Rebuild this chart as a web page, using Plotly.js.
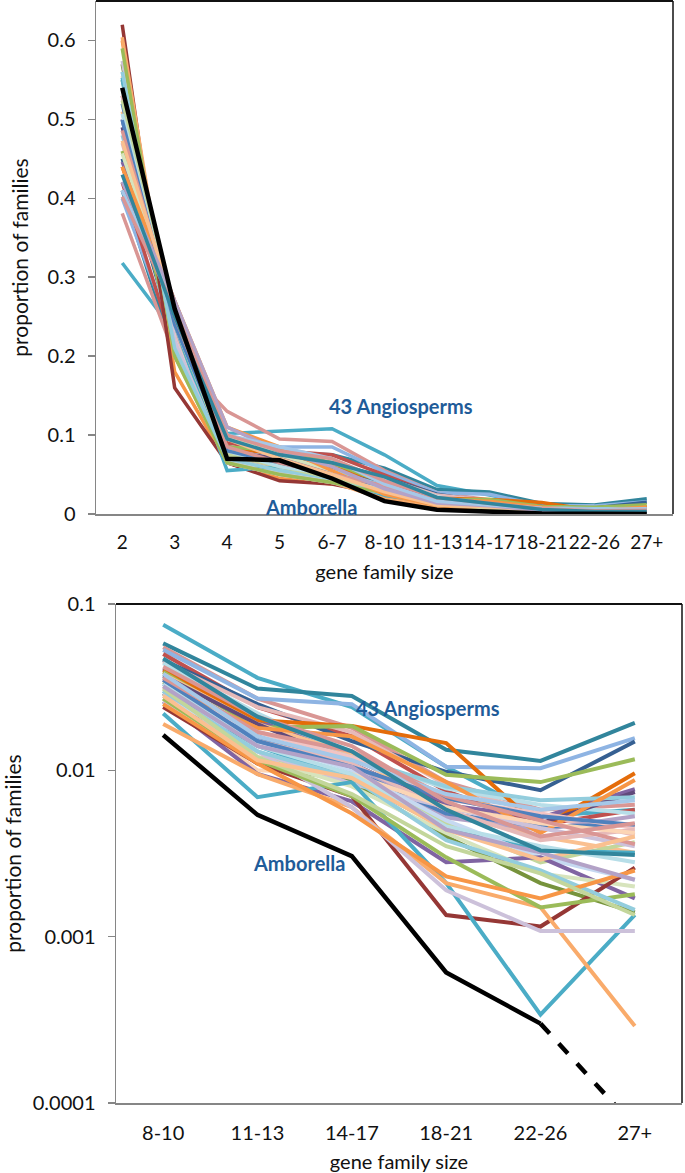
<!DOCTYPE html>
<html><head><meta charset="utf-8">
<script src="https://cdn.plot.ly/plotly-3.0.1.min.js"></script>
<style>html,body{margin:0;padding:0;background:#fff}#chart{width:685px;height:1173px}</style>
</head><body><div id="chart"></div><script>
// gene family size categories
const categories = ["2","3","4","5","6-7","8-10","11-13","14-17","18-21","22-26","27+"];
const logCategories = categories.slice(5);

// Amborella (black); last value continues below 0.0001 (dashed in log panel)
const amborella = [0.54, 0.26, 0.07, 0.068, 0.045, 0.0163, 0.0054, 0.00305, 0.00061, 0.0003, 0.000072];

// 43 angiosperms
const angio01 = [0.318, 0.23, 0.102, 0.105, 0.108, 0.075, 0.036, 0.024, 0.0105, 0.0053, 0.0058];
const angio02 = [0.41, 0.20, 0.085, 0.078, 0.075, 0.058, 0.031, 0.028, 0.0133, 0.0114, 0.0193];
const angio03 = [0.381, 0.20, 0.13, 0.095, 0.092, 0.055, 0.027, 0.018, 0.0085, 0.0058, 0.0062];
const angio04 = [0.40, 0.22, 0.095, 0.085, 0.085, 0.053, 0.027, 0.025, 0.0105, 0.0103, 0.0156];
const angio05 = [0.42, 0.21, 0.09, 0.08, 0.075, 0.050, 0.024, 0.016, 0.0075, 0.0047, 0.0058];
const angio06 = [0.45, 0.22, 0.085, 0.075, 0.065, 0.046, 0.025, 0.015, 0.0098, 0.0076, 0.0149];
const angio07 = [0.47, 0.23, 0.08, 0.07, 0.06, 0.045, 0.024, 0.017, 0.0082, 0.0054, 0.0041];
const angio08 = [0.50, 0.20, 0.08, 0.07, 0.06, 0.044, 0.022, 0.012, 0.0078, 0.0062, 0.0055];
const angio09 = [0.50, 0.21, 0.078, 0.068, 0.058, 0.041, 0.020, 0.012, 0.0062, 0.0052, 0.0077];
const angio10 = [0.44, 0.24, 0.085, 0.075, 0.06, 0.040, 0.020, 0.0185, 0.0146, 0.0045, 0.0096];
const angio11 = [0.46, 0.22, 0.085, 0.08, 0.065, 0.039, 0.018, 0.0185, 0.0094, 0.0085, 0.01165];
const angio12 = [0.51, 0.23, 0.075, 0.06, 0.05, 0.038, 0.019, 0.0125, 0.0055, 0.0040, 0.0032];
const angio13 = [0.49, 0.23, 0.08, 0.07, 0.055, 0.037, 0.019, 0.011, 0.0060, 0.0048, 0.0074];
const angio14 = [0.48, 0.24, 0.08, 0.065, 0.055, 0.036, 0.017, 0.012, 0.0080, 0.0066, 0.0069];
const angio15 = [0.53, 0.22, 0.075, 0.055, 0.05, 0.035, 0.016, 0.011, 0.0052, 0.0044, 0.0053];
const angio16 = [0.55, 0.22, 0.07, 0.055, 0.045, 0.034, 0.012, 0.0095, 0.0048, 0.0028, 0.0037];
const angio17 = [0.52, 0.23, 0.075, 0.06, 0.048, 0.033, 0.016, 0.010, 0.0055, 0.0046, 0.0047];
const angio18 = [0.60, 0.18, 0.065, 0.045, 0.038, 0.032, 0.018, 0.016, 0.0085, 0.0042, 0.00875];
const angio19 = [0.53, 0.22, 0.075, 0.06, 0.045, 0.031, 0.017, 0.012, 0.0067, 0.0055, 0.0045];
const angio20 = [0.55, 0.22, 0.07, 0.055, 0.045, 0.030, 0.014, 0.0088, 0.0045, 0.0033, 0.0032];
const angio21 = [0.57, 0.21, 0.07, 0.055, 0.04, 0.029, 0.011, 0.0085, 0.0040, 0.0021, 0.0014];
const angio22 = [0.54, 0.23, 0.07, 0.055, 0.045, 0.029, 0.013, 0.0083, 0.0060, 0.0045, 0.0035];
const angio23 = [0.53, 0.23, 0.075, 0.06, 0.045, 0.028, 0.015, 0.011, 0.0058, 0.0038, 0.0044];
const angio24 = [0.56, 0.22, 0.07, 0.05, 0.045, 0.027, 0.015, 0.010, 0.0050, 0.0030, 0.0022];
const angio25 = [0.555, 0.22, 0.07, 0.055, 0.045, 0.027, 0.010, 0.0095, 0.0060, 0.0048, 0.0042];
const angio26 = [0.446, 0.27, 0.10, 0.075, 0.05, 0.026, 0.0095, 0.0065, 0.0028, 0.0030, 0.0017];
const angio27 = [0.457, 0.26, 0.10, 0.075, 0.055, 0.025, 0.012, 0.0080, 0.0042, 0.0024, 0.0020];
const angio28 = [0.62, 0.16, 0.065, 0.042, 0.038, 0.024, 0.011, 0.0070, 0.00135, 0.00115, 0.0026];
const angio29 = [0.553, 0.24, 0.055, 0.06, 0.045, 0.022, 0.0069, 0.0085, 0.0021, 0.00034, 0.00135];
const angio30 = [0.604, 0.20, 0.065, 0.05, 0.04, 0.019, 0.0095, 0.0060, 0.0021, 0.0015, 0.00029];
const angio31 = [0.574, 0.22, 0.065, 0.05, 0.04, 0.026, 0.013, 0.0060, 0.0019, 0.00108, 0.00108];
const angio32 = [0.59, 0.20, 0.065, 0.05, 0.04, 0.027, 0.0115, 0.0070, 0.0030, 0.0015, 0.0018];
const angio33 = [0.56, 0.21, 0.07, 0.055, 0.045, 0.030, 0.013, 0.0090, 0.0038, 0.0025, 0.00145];
const angio34 = [0.44, 0.27, 0.11, 0.085, 0.055, 0.025, 0.011, 0.0055, 0.0023, 0.0017, 0.0025];
const angio35 = [0.524, 0.24, 0.075, 0.06, 0.045, 0.031, 0.012, 0.0072, 0.0035, 0.0024, 0.00135];
const angio36 = [0.507, 0.24, 0.08, 0.06, 0.05, 0.033, 0.014, 0.0095, 0.0046, 0.0035, 0.0028];
const angio37 = [0.499, 0.24, 0.08, 0.065, 0.05, 0.035, 0.015, 0.0105, 0.0068, 0.0053, 0.0047];
const angio38 = [0.486, 0.25, 0.085, 0.065, 0.05, 0.036, 0.017, 0.013, 0.0070, 0.0050, 0.0036];
const angio39 = [0.473, 0.26, 0.095, 0.07, 0.05, 0.028, 0.0115, 0.0090, 0.0044, 0.0029, 0.0040];
const angio40 = [0.421, 0.27, 0.11, 0.08, 0.06, 0.032, 0.014, 0.0105, 0.0044, 0.0032, 0.0022];
const angio41 = [0.41, 0.26, 0.10, 0.085, 0.07, 0.038, 0.016, 0.0115, 0.0072, 0.0058, 0.0066];
const angio42 = [0.402, 0.26, 0.10, 0.08, 0.07, 0.042, 0.021, 0.014, 0.0065, 0.0040, 0.0048];
const angio43 = [0.43, 0.25, 0.095, 0.075, 0.065, 0.047, 0.021, 0.013, 0.0058, 0.0033, 0.0031];

const angiosperms = [angio01,angio02,angio03,angio04,angio05,angio06,angio07,angio08,angio09,angio10,
  angio11,angio12,angio13,angio14,angio15,angio16,angio17,angio18,angio19,angio20,
  angio21,angio22,angio23,angio24,angio25,angio26,angio27,angio28,angio29,angio30,
  angio31,angio32,angio33,angio34,angio35,angio36,angio37,angio38,angio39,angio40,
  angio41,angio42,angio43];

const angioColors = ["#4BACC6","#31859C","#D99694","#8EB4E3","#C0504D","#366092","#E6B9B8","#B7DEE8","#8064A2","#E46C0A",
  "#9BBB59","#FAC090","#604A7B","#93CDDD","#B3A2C7","#C3D69B","#4F81BD","#F79646","#F2C4C3","#4BACC6",
  "#77933C","#CCC1DA","#E6B9B8","#C6D9F1","#FCD5B5","#8064A2","#D7E4BD","#953735","#4BACC6","#F9AB6B",
  "#CCC1DA","#9BBB59","#93CDDD","#F79646","#C3D69B","#B7DEE8","#4F81BD","#DA9694","#FAC090","#B3A2C7",
  "#A5C8E8","#D99694","#31859C"];

const FONT = "Lato, 'Open Sans', sans-serif";
const traces = [];
angiosperms.forEach((s, i) => {
  traces.push({x: categories, y: s, xaxis: 'x', yaxis: 'y', type: 'scatter', mode: 'lines',
    line: {color: angioColors[i], width: 3.5}, hoverinfo: 'skip', showlegend: false});
});
angiosperms.forEach((s, i) => {
  traces.push({x: logCategories, y: s.slice(5), xaxis: 'x2', yaxis: 'y2', type: 'scatter', mode: 'lines',
    line: {color: angioColors[i], width: 4}, hoverinfo: 'skip', showlegend: false});
});
traces.push({x: categories, y: amborella, xaxis: 'x', yaxis: 'y', type: 'scatter', mode: 'lines',
  line: {color: '#000', width: 4.5}, showlegend: false});
traces.push({x: logCategories.slice(0, 5), y: amborella.slice(5, 10), xaxis: 'x2', yaxis: 'y2', type: 'scatter', mode: 'lines',
  line: {color: '#000', width: 4.5}, showlegend: false});
traces.push({x: logCategories.slice(4), y: amborella.slice(9), xaxis: 'x2', yaxis: 'y2', type: 'scatter', mode: 'lines',
  line: {color: '#000', width: 4.5, dash: 'dash'}, showlegend: false});

const tickFont = {family: FONT, size: 20, color: '#111'};
const titleFont = {family: FONT, size: 20, color: '#111'};
const yTitleFont = {family: FONT, size: 21, color: '#111'};
const axisGray = '#868686';
const layout = {
  width: 685, height: 1173,
  margin: {l: 0, r: 0, t: 0, b: 0},
  paper_bgcolor: '#fff', plot_bgcolor: '#fff',
  font: {family: FONT, size: 20, color: '#111'},
  showlegend: false,
  xaxis: {domain: [96/685, 673/685], anchor: 'y', type: 'category', range: [-0.5, 10.5],
    showline: true, linecolor: axisGray, linewidth: 1.5, showgrid: false, zeroline: false,
    ticks: '', tickangle: 0, tickfont: {family: FONT, size: 19, color: '#111'}, ticklabelstandoff: 11,
    title: {text: 'gene family size', font: titleFont, standoff: 12}},
  yaxis: {domain: [1 - 514/1173, 1 - 1/1173], anchor: 'x', range: [0, 0.65],
    tickvals: [0, 0.1, 0.2, 0.3, 0.4, 0.5, 0.6], ticktext: ['0','0.1','0.2','0.3','0.4','0.5','0.6'],
    showline: true, linecolor: axisGray, linewidth: 1.5, showgrid: false, zeroline: false,
    ticks: 'outside', ticklen: 7, tickcolor: axisGray, tickwidth: 1.5, tickfont: tickFont, ticklabelstandoff: 8,
    title: {text: 'proportion of families', font: yTitleFont, standoff: 13}},
  xaxis2: {domain: [116/685, 682/685], anchor: 'y2', type: 'category', range: [-0.5, 5.5],
    showline: true, linecolor: axisGray, linewidth: 1.5, showgrid: false, zeroline: false,
    ticks: '', tickangle: 0, tickfont: tickFont, ticklabelstandoff: 11,
    title: {text: 'gene family size', font: titleFont, standoff: 12}},
  yaxis2: {domain: [1 - 1103/1173, 1 - 604/1173], anchor: 'x2', type: 'log', range: [-4, -1],
    tickvals: [0.0001, 0.001, 0.01, 0.1], ticktext: ['0.0001','0.001','0.01','0.1'],
    showline: true, linecolor: axisGray, linewidth: 1.5, showgrid: false, zeroline: false,
    ticks: 'outside', ticklen: 7, tickcolor: axisGray, tickwidth: 1.5, tickfont: tickFont, ticklabelstandoff: 8,
    title: {text: 'proportion of families', font: yTitleFont, standoff: 11}},
  shapes: [
    {type: 'line', xref: 'x domain', yref: 'y domain', x0: 0, x1: 1, y0: 1, y1: 1, line: {color: '#111', width: 2}},
    {type: 'line', xref: 'x domain', yref: 'y domain', x0: 1, x1: 1, y0: 0, y1: 1, line: {color: '#111', width: 1.5}},
    {type: 'line', xref: 'x2 domain', yref: 'y2 domain', x0: 0, x1: 1, y0: 1, y1: 1, line: {color: '#111', width: 2}},
    {type: 'line', xref: 'x2 domain', yref: 'y2 domain', x0: 1, x1: 1, y0: 0, y1: 1, line: {color: '#111', width: 1.5}}
  ],
  annotations: [
    {text: '<b>43 Angiosperms</b>', xref: 'paper', yref: 'paper', x: 475/685, y: 1 - 406/1173, showarrow: false,
      font: {family: FONT, size: 20, color: '#1F5C99'}},
    {text: '<b>Amborella</b>', xref: 'paper', yref: 'paper', x: 311/685, y: 1 - 507/1173, showarrow: false,
      font: {family: FONT, size: 20, color: '#1F5C99'}},
    {text: '<b>43 Angiosperms</b>', xref: 'paper', yref: 'paper', x: 502/685, y: 1 - 708/1173, showarrow: false,
      font: {family: FONT, size: 20, color: '#1F5C99'}},
    {text: '<b>Amborella</b>', xref: 'paper', yref: 'paper', x: 299/685, y: 1 - 877/1173, showarrow: false,
      font: {family: FONT, size: 20, color: '#1F5C99'}}
  ]
};
Plotly.newPlot('chart', traces, layout, {staticPlot: true, displayModeBar: false});
</script></body></html>
